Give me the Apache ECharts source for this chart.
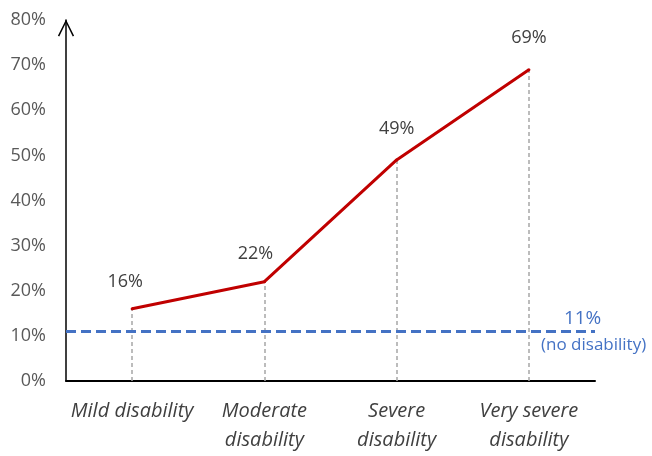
<!DOCTYPE html>
<html>
<head>
<meta charset="utf-8">
<script src="https://cdn.jsdelivr.net/npm/echarts@6/dist/echarts.min.js"></script>
<style>
  html, body { margin: 0; padding: 0; background: #ffffff; }
  #chart { width: 652px; height: 456px; }
</style>
</head>
<body>
<div id="chart"></div>
<script>
// Share of people (%) by level of disability, with the no-disability baseline
const categories = ['Mild disability', 'Moderate\ndisability', 'Severe\ndisability', 'Very severe\ndisability'];
const shareValues = [16, 22, 49, 69];
const baselineValue = 11;
const baselineNote = '(no disability)';
const yTicks = [0, 10, 20, 30, 40, 50, 60, 70, 80];

const FONT = '"Open Sans", Lato, sans-serif';
// small nudges so the first two value labels sit a bit left of their points
const labelNudges = [[-7, 5], [-9, 4], [0, 0], [0, 0]];

const chart = echarts.init(document.getElementById('chart'), null, { renderer: 'canvas' });

const lineData = shareValues.map((v, i) => ({
  value: v,
  label: { offset: labelNudges[i] }
}));

// grey dashed drops from each point to the x axis
const dropLines = shareValues.map((v, i) => [
  { coord: [i, 0] },
  { coord: [i, v] }
]);

chart.setOption({
  backgroundColor: '#ffffff',
  animation: false,
  grid: { left: 66, right: 57, top: 20, bottom: 75 },
  xAxis: {
    type: 'category',
    data: categories,
    boundaryGap: true,
    axisLine: { lineStyle: { color: '#000000', width: 2 } },
    axisTick: { show: false },
    axisLabel: {
      fontFamily: FONT, fontSize: 20, fontStyle: 'italic', color: '#404040',
      lineHeight: 29, margin: 16, interval: 0
    },
    splitLine: { show: false }
  },
  yAxis: {
    type: 'value',
    min: yTicks[0],
    max: yTicks[yTicks.length - 1],
    interval: 10,
    axisLine: {
      show: true,
      lineStyle: { color: '#000000', width: 1.5 },
      symbol: ['none', 'path://M0,12 L6,0 L12,12 L11,12.6 L6,2.4 L1,12.6 Z'],
      symbolSize: [17, 17],
      symbolOffset: [0, -8]
    },
    axisTick: { show: false },
    splitLine: { show: false },
    axisLabel: {
      fontFamily: FONT, fontSize: 18, color: '#595959', margin: 20,
      formatter: '{value}%'
    }
  },
  series: [
    {
      type: 'line',
      data: shareValues.map(() => null),
      silent: true,
      markLine: {
        silent: true,
        symbol: ['none', 'none'],
        lineStyle: { color: '#A6A6A6', type: [4, 3], width: 1.5 },
        label: { show: false },
        data: dropLines
      }
    },
    {
      type: 'line',
      data: shareValues.map(() => null),
      silent: true,
      z: 3,
      markLine: {
        silent: true,
        symbol: ['none', 'none'],
        lineStyle: { color: '#4472C4', type: [10, 5], width: 3 },
        label: {
          show: true,
          position: 'end',
          distance: [-54, 0],
          formatter: '{a|' + baselineValue + '%}\n{b|' + baselineNote + '}',
          rich: {
            a: { fontFamily: FONT, fontSize: 19, color: '#4472C4', align: 'center', padding: [0, 22, 3, 0] },
            b: { fontFamily: FONT, fontSize: 17, color: '#4472C4', align: 'center', padding: [6, 0, 0, 0] }
          }
        },
        data: [{ yAxis: baselineValue }]
      }
    },
    {
      type: 'line',
      data: lineData,
      z: 5,
      symbol: 'circle',
      symbolSize: 3,
      itemStyle: { color: '#C00000' },
      lineStyle: { color: '#C00000', width: 3 },
      label: {
        show: true,
        position: 'top',
        distance: 21,
        fontFamily: FONT, fontSize: 18, color: '#404040',
        formatter: '{c}%'
      }
    }
  ]
});
</script>
</body>
</html>
